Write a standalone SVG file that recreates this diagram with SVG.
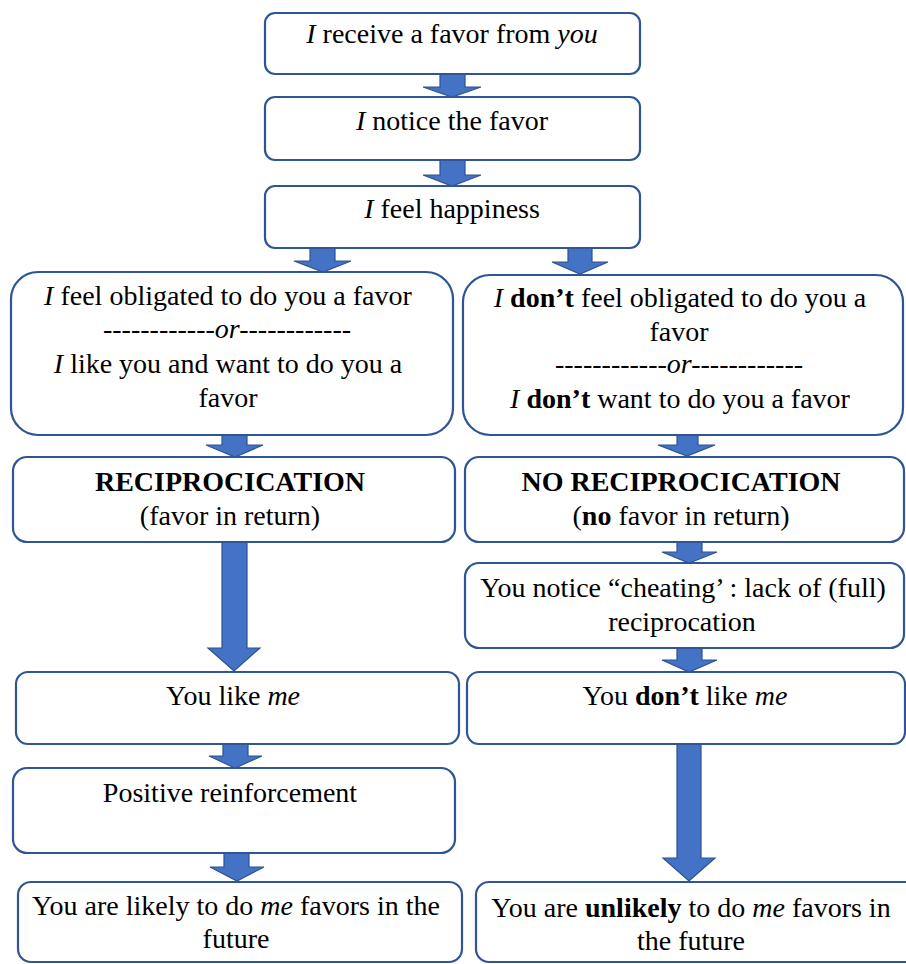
<svg xmlns="http://www.w3.org/2000/svg" width="906" height="964" viewBox="0 0 906 964">
<style>
.box{fill:#fff;stroke:#2F5597;stroke-width:2.2}
.arr{fill:#4472C4;stroke:#2F528F;stroke-width:1.2}
text{font-family:'Liberation Serif',serif;font-size:28px;fill:#000;text-anchor:middle}
.i{font-style:italic}
.b{font-weight:bold}
</style>
<rect width="906" height="964" fill="#fff"/>
<g id="connectors">
<polygon class="arr" points="440,74 465,74 465,87 481,87 452,97 423,87 440,87"/>
<polygon class="arr" points="440,160 465,160 465,175 481,175 452,186 423,175 440,175"/>
<polygon class="arr" points="310,248 335,248 335,261 351,261 323,272 294,261 310,261"/>
<polygon class="arr" points="568,248 592,248 592,262 608,262 580,274 552,262 568,262"/>
<polygon class="arr" points="222,435 247,435 247,445 263,445 235,457 206,445 222,445"/>
<polygon class="arr" points="677,435 698,435 698,445 715,445 687,456 658,445 677,445"/>
<polygon class="arr" points="222,542 247,542 247,648 260,648 234,671 208,648 222,648"/>
<polygon class="arr" points="677,542 702,542 702,552 717,552 689,563 662,552 677,552"/>
<polygon class="arr" points="677,648 702,648 702,660 717,660 689,672 662,660 677,660"/>
<polygon class="arr" points="223,744 248,744 248,756 262,756 235,768 209,756 223,756"/>
<polygon class="arr" points="677,744 701,744 701,858 715,858 689,881 663,858 677,858"/>
<polygon class="arr" points="224,853 249,853 249,867 264,867 237,881 210,867 224,867"/>
</g>
<g id="n1">
<rect class="box" x="265" y="13" width="375" height="61" rx="10"/>
<text x="452" y="43" font-family="Liberation Serif"><tspan class="i">I</tspan> receive a favor from <tspan class="i">you</tspan></text>
</g>
<g id="n2">
<rect class="box" x="265" y="97" width="375" height="63" rx="10"/>
<text x="452" y="130"><tspan class="i">I</tspan> notice the favor</text>
</g>
<g id="n3">
<rect class="box" x="265" y="186" width="375" height="62" rx="10"/>
<text x="452" y="218"><tspan class="i">I</tspan> feel happiness</text>
</g>
<g id="n4l">
<rect class="box" x="11" y="272" width="442" height="163" rx="27"/>
<text x="228" y="305"><tspan class="i">I</tspan> feel obligated to do you a favor</text>
<text x="227" y="338" class="i">------------or------------</text>
<text x="228" y="373"><tspan class="i">I</tspan> like you and want to do you a</text>
<text x="228" y="407">favor</text>
</g>
<g id="n4r">
<rect class="box" x="463" y="275" width="440" height="160" rx="27"/>
<text x="680" y="307"><tspan class="i">I</tspan> <tspan class="b">don’t</tspan> feel obligated to do you a</text>
<text x="679" y="341">favor</text>
<text x="679" y="373" class="i">------------or------------</text>
<text x="680" y="408"><tspan class="i">I</tspan> <tspan class="b">don’t</tspan> want to do you a favor</text>
</g>
<g id="n5l">
<rect class="box" x="13" y="457" width="442" height="85" rx="14"/>
<text x="230" y="491" class="b">RECIPROCICATION</text>
<text x="230" y="525">(favor in return)</text>
</g>
<g id="n5r">
<rect class="box" x="465" y="457" width="439" height="85" rx="14"/>
<text x="681" y="491" class="b">NO RECIPROCICATION</text>
<text x="681" y="525">(<tspan class="b">no</tspan> favor in return)</text>
</g>
<g id="n6r">
<rect class="box" x="465" y="563" width="439" height="85" rx="14"/>
<text x="683" y="597">You notice “cheating’ : lack of (full)</text>
<text x="682" y="631">reciprocation</text>
</g>
<g id="n7l">
<rect class="box" x="16" y="672" width="443" height="72" rx="12"/>
<text x="233" y="705">You like <tspan class="i">me</tspan></text>
</g>
<g id="n7r">
<rect class="box" x="467" y="672" width="438" height="72" rx="12"/>
<text x="685" y="705">You <tspan class="b">don’t</tspan> like <tspan class="i">me</tspan></text>
</g>
<g id="n8l">
<rect class="box" x="13" y="768" width="442" height="85" rx="14"/>
<text x="230" y="802">Positive reinforcement</text>
</g>
<g id="n9l">
<rect class="box" x="18" y="882" width="444" height="80" rx="13"/>
<text x="236" y="915">You are likely to do <tspan class="i">me</tspan> favors in the</text>
<text x="236" y="948">future</text>
</g>
<g id="n9r">
<rect class="box" x="476" y="882" width="444" height="80" rx="13"/>
<text x="691" y="917">You are <tspan class="b">unlikely</tspan> to do <tspan class="i">me</tspan> favors in</text>
<text x="691" y="950">the future</text>
</g>
</svg>
